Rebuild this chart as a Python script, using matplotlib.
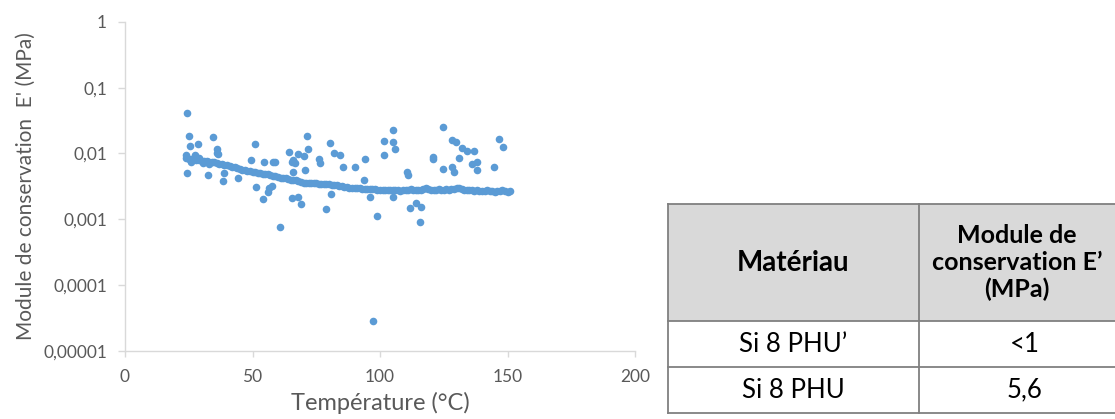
import matplotlib
matplotlib.use("Agg")
import matplotlib.pyplot as plt
from matplotlib.patches import Rectangle
from matplotlib.ticker import FixedLocator, FixedFormatter

plt.rcParams['font.family'] = ['Lato', 'DejaVu Sans']

# --- données : bande principale (mesure continue) ---
temp_band = [24, 25, 26, 27, 28, 29, 30, 31, 32, 33, 34, 35,
             36, 37, 38, 39, 40, 41, 42, 43, 44,
             45, 46, 47, 48, 49, 50, 51, 52, 53, 54,
             55, 56, 57, 58, 59, 60, 61, 62, 63, 64,
             65, 66, 67, 68, 69, 70, 71, 72, 73, 74,
             75, 76, 77, 78, 79, 80, 81, 82, 83, 84,
             85, 86, 87, 88, 89, 90, 91, 92, 93, 94,
             95, 96, 97, 98, 99, 100, 101, 102, 103, 104,
             105, 106, 107, 108, 109, 110, 111, 112, 113, 114,
             115, 116, 117, 118, 119, 120, 121, 122, 123, 124,
             125, 126, 127, 128, 129, 130, 131, 132, 133, 134,
             135, 136, 137, 138, 139, 140, 141, 142, 143, 144,
             145, 146, 147, 148, 149, 150, 151]
E_band = [0.0085, 0.0083, 0.0082, 0.0081, 0.0080, 0.0079, 0.0078, 0.0077, 0.0076, 0.0075, 0.0074, 0.0073,
          0.0072, 0.0070, 0.0069, 0.0067, 0.0066, 0.0064, 0.0063, 0.0062, 0.0060,
          0.0058, 0.0057, 0.0056, 0.0055, 0.0054, 0.0053, 0.0052, 0.0051, 0.0050, 0.0049,
          0.0049, 0.0048, 0.0047, 0.0046, 0.0045, 0.0044, 0.0043, 0.0043, 0.0042, 0.0041,
          0.0040, 0.0039, 0.0039, 0.0038, 0.0037, 0.0036, 0.0036, 0.0036, 0.0035, 0.0035,
          0.0035, 0.0034, 0.0034, 0.0034, 0.0034, 0.0034, 0.0033, 0.0033, 0.0033, 0.0032,
          0.0032, 0.0031, 0.0031, 0.0030, 0.0030, 0.0030, 0.0030, 0.0030, 0.0029, 0.0029,
          0.0029, 0.0029, 0.0029, 0.0029, 0.0028, 0.0028, 0.0028, 0.0028, 0.0028, 0.0028,
          0.0028, 0.0028, 0.0028, 0.0027, 0.0028, 0.0028, 0.0028, 0.0029, 0.0028, 0.0028,
          0.0028, 0.0028, 0.0029, 0.0030, 0.0029, 0.0028, 0.0028, 0.0028, 0.0029, 0.0028,
          0.0028, 0.0029, 0.0028, 0.0029, 0.0029, 0.0030, 0.0030, 0.0029, 0.0028, 0.0028,
          0.0028, 0.0028, 0.0027, 0.0028, 0.0027, 0.0027, 0.0027, 0.0028, 0.0027, 0.0027,
          0.0026, 0.0027, 0.0027, 0.0028, 0.0027, 0.0026, 0.0027]

# --- données : points dispersés ---
temp_scatter = [24.2, 25.0, 25.4, 28.7, 34.4, 36.1, 36.6, 24.2, 32.7, 38.3, 38.9, 44.2,
                51.0, 49.4, 54.6, 57.9, 58.7, 51.4, 54.0, 56.6, 57.5, 56.0, 60.8, 64.2,
                65.4, 65.5, 71.5, 71.9, 68.0, 70.2, 66.0, 66.7, 76.2, 76.6, 70.6, 66.0,
                80.4, 82.1, 84.3, 85.5, 90.3, 94.1, 93.7, 68.0, 68.9, 78.7, 80.8, 96.1,
                98.7, 97.4, 105.2, 101.7, 105.2, 106.0, 101.7, 110.5, 111.1, 111.8, 105.2, 114.1,
                115.9, 115.8, 120.9, 120.9, 124.8, 128.1, 129.8, 132.0, 134.0, 137.0, 131.1, 124.8,
                128.1, 129.0, 136.0, 137.9, 137.9, 144.8, 146.8, 148.1,
                24.0, 27.5, 29.0, 36.0, 26.0, 30.5, 33.0]
E_scatter = [0.0412, 0.0184, 0.0130, 0.0139, 0.0178, 0.0115, 0.0099, 0.0050, 0.0047, 0.0038, 0.0051, 0.0043,
             0.0141, 0.0079, 0.0075, 0.0075, 0.0075, 0.0031, 0.0020, 0.0030, 0.0032, 0.0026, 0.00077, 0.0106,
             0.0021, 0.0074, 0.0184, 0.0115, 0.0097, 0.0091, 0.0079, 0.0071, 0.0082, 0.0071, 0.0057, 0.0053,
             0.0146, 0.0102, 0.0095, 0.0062, 0.0062, 0.0081, 0.0039, 0.0022, 0.0017, 0.00144, 0.0024, 0.0022,
             0.0011, 0.000028, 0.0230, 0.0156, 0.0149, 0.0115, 0.0096, 0.0053, 0.0047, 0.0015, 0.0022, 0.00174,
             0.00154, 0.0009, 0.0089, 0.0082, 0.0249, 0.0160, 0.0151, 0.0120, 0.0111, 0.0111, 0.0085, 0.0058,
             0.0063, 0.0052, 0.0069, 0.0075, 0.0056, 0.0063, 0.0164, 0.0124,
             0.0096, 0.0096, 0.0085, 0.0100, 0.0075, 0.0072, 0.0070]

yticks = [1e-5, 1e-4, 1e-3, 1e-2, 1e-1, 1]
ytick_labels = ['0,00001', '0,0001', '0,001', '0,01', '0,1', '1']
xticks = [0, 50, 100, 150, 200]

# --- tableau ---
table_header = ['Matériau', 'Module de\nconservation E\u2019\n(MPa)']
table_rows = [['Si 8 PHU\u2019', '<1'],
              ['Si 8 PHU', '5,6']]

blue = '#5B9BD5'
grey_axis = '#D9D9D9'
grey_txt = '#595959'

fig = plt.figure(figsize=(11.15, 4.19), dpi=100)
ax = fig.add_axes([125/1115, 68.3/419, 510/1115, 328.7/419])

ax.scatter(temp_band, E_band, s=30, color=blue, linewidths=0, zorder=3)
ax.scatter(temp_scatter, E_scatter, s=30, color=blue, linewidths=0, zorder=3)

ax.set_yscale('log')
ax.set_ylim(1e-5, 1)
ax.set_xlim(0, 200)
ax.yaxis.set_major_locator(FixedLocator(yticks))
ax.yaxis.set_major_formatter(FixedFormatter(ytick_labels))
ax.yaxis.set_minor_locator(FixedLocator([]))
ax.set_xticks(xticks)
ax.set_xticklabels([str(v) for v in xticks])

for s in ['top', 'right']:
    ax.spines[s].set_visible(False)
for s in ['left', 'bottom']:
    ax.spines[s].set_color(grey_axis)
    ax.spines[s].set_linewidth(1)
ax.tick_params(axis='y', length=5, width=1, color=grey_axis, labelsize=12.5,
               labelcolor=grey_txt, pad=8)
ax.tick_params(axis='x', length=4, width=1, color=grey_axis, labelsize=12.5,
               labelcolor=grey_txt, pad=9)
ax.set_ylabel("Module de conservation  E' (MPa)", fontsize=15, color=grey_txt, labelpad=5)
ax.set_xlabel('Température (°C)', fontsize=17, color=grey_txt, labelpad=5)

# tableau dessiné à droite
col_x = [668, 919, 1131]
row_y = [204.3, 321, 367.3, 413.3]
header_cx = [793.5, 1017]
header_size = [20, 18]
tab = fig.add_axes([0, 0, 1, 1])
tab.set_xlim(0, 1115)
tab.set_ylim(419, 0)
tab.axis('off')

tab.add_patch(Rectangle((col_x[0], row_y[0]), col_x[2] - col_x[0], row_y[1] - row_y[0],
                        facecolor='#D9D9D9', edgecolor='none', clip_on=False))
for yy in row_y:
    tab.plot([col_x[0], col_x[2]], [yy, yy], color='#808080', lw=1.3, clip_on=False)
for xx in col_x:
    tab.plot([xx, xx], [row_y[0], row_y[-1]], color='#808080', lw=1.3, clip_on=False)

for j, txt in enumerate(table_header):
    cy = (row_y[0] + row_y[1]) / 2
    tab.text(header_cx[j], cy, txt, ha='center', va='center', fontsize=header_size[j],
             fontweight='bold', linespacing=1.2, color='black', clip_on=False)
for i, row in enumerate(table_rows):
    cy = (row_y[i + 1] + row_y[i + 2]) / 2
    for j, txt in enumerate(row):
        cx = (col_x[j] + col_x[j + 1]) / 2
        tab.text(cx, cy, txt, ha='center', va='center', fontsize=18.5,
                 color='black', clip_on=False)

fig.savefig('out.png', dpi=100)
